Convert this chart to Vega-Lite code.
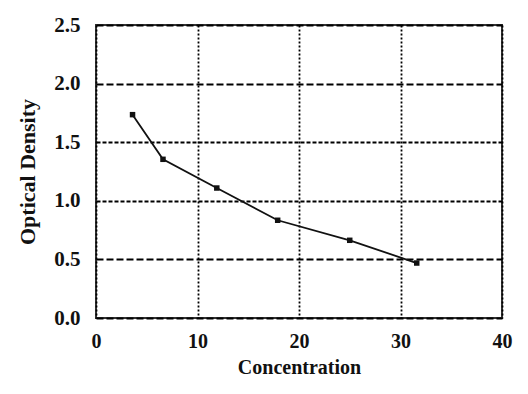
{
  "$schema": "https://vega.github.io/schema/vega-lite/v6.json",
  "width": 406,
  "height": 293,
  "autosize": {"type": "none"},
  "padding": {"left": 96, "top": 25, "right": 26, "bottom": 76},
  "background": "white",
  "config": {
    "view": {"stroke": "#333333", "strokeWidth": 2},
    "font": "Liberation Serif",
    "axis": {
      "labelFont": "Liberation Serif",
      "labelFontWeight": "bold",
      "labelFontSize": 20,
      "labelColor": "#111111",
      "labelFlush": false,
      "titleFont": "Liberation Serif",
      "titleFontWeight": "bold",
      "titleFontSize": 20,
      "titleColor": "#111111",
      "domain": false,
      "ticks": false,
      "gridColor": "#000000",
      "gridOpacity": 1
    }
  },
  "data": {
    "values": [
      {"Concentration": 3.6, "OD": 1.735},
      {"Concentration": 6.6, "OD": 1.354},
      {"Concentration": 11.9, "OD": 1.109},
      {"Concentration": 17.9, "OD": 0.834},
      {"Concentration": 25.0, "OD": 0.663},
      {"Concentration": 31.6, "OD": 0.469}
    ]
  },
  "encoding": {
    "x": {
      "field": "Concentration",
      "type": "quantitative",
      "scale": {"domain": [0, 40], "nice": false},
      "axis": {
        "title": "Concentration",
        "values": [0, 10, 20, 30, 40],
        "format": "d",
        "labelPadding": 13,
        "titlePadding": 6,
        "gridDash": [2, 2],
        "gridWidth": 1.8
      }
    },
    "y": {
      "field": "OD",
      "type": "quantitative",
      "scale": {"domain": [0, 2.5], "nice": false},
      "axis": {
        "title": "Optical Density",
        "titleFontSize": 22,
        "labelFontSize": 21,
        "values": [0, 0.5, 1, 1.5, 2, 2.5],
        "format": ".1f",
        "labelPadding": 16,
        "titlePadding": 14,
        "gridDash": {"condition": {"test": "datum.value == 1 || datum.value == 1.5", "value": [4, 2]}, "value": [7, 3]},
        "gridWidth": 1.8
      }
    }
  },
  "layer": [
    {"mark": {"type": "line", "color": "#111111", "strokeWidth": 1.8}},
    {"mark": {"type": "point", "shape": "square", "filled": true, "color": "#111111", "size": 30, "opacity": 1}}
  ]
}
